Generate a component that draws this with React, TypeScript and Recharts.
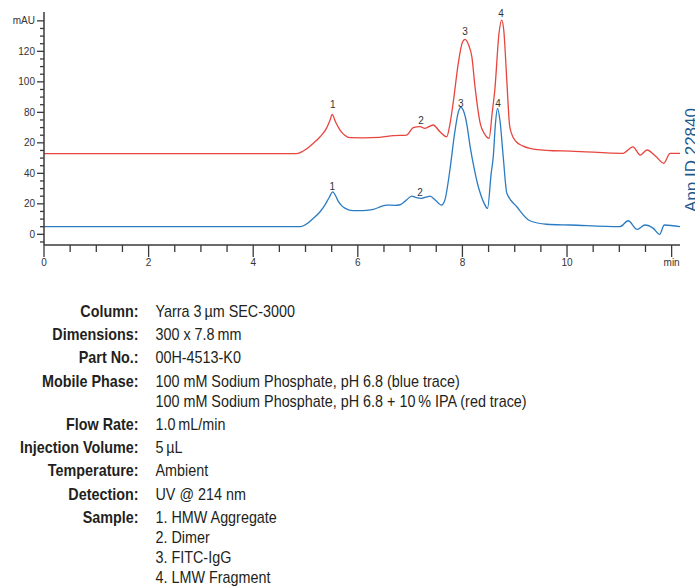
import { LineChart, Line, XAxis, YAxis, ReferenceDot } from 'recharts'

// retention time (min) and absorbance (mAU)
const blueTime = [
  0, 4.9, 5.05, 5.15, 5.27, 5.37, 5.45, 5.52, 5.58, 5.63, 5.7, 5.76, 5.91, 6.1, 6.3,
  6.45, 6.55, 6.7, 6.81, 6.93, 7.03, 7.12, 7.22, 7.32, 7.38, 7.48, 7.6, 7.66, 7.76,
  7.85, 7.92, 7.97, 8.02, 8.08, 8.15, 8.22, 8.29, 8.36, 8.42, 8.48, 8.55, 8.59, 8.63,
  8.67, 8.72, 8.78, 8.85, 9.04, 9.29, 9.61, 10.06, 11.01, 11.17, 11.34, 11.49, 11.65,
  11.77, 11.86, 12.16,
]
const blueValue = [
  5.0, 5.0, 7.5, 10.5, 14.5, 19.2, 24, 27.9, 25, 21.4, 18.5, 17, 15.5, 15.6, 16.4,
  18.3, 19.2, 19.0, 19.4, 22.5, 25.1, 24.0, 23.6, 24.6, 25.1, 22.5, 19.2, 22, 42,
  66, 80, 83.3, 81, 73, 57, 44, 33, 25, 20, 17, 40, 51, 72,
  82.6, 74, 50.9, 26.9, 18.1, 8.9, 6.6, 6.1, 5.0, 8.9, 3.3, 6.1, 3.9,
  0, 6.1, 5.0,
]

const redTime = [
  0, 4.83, 4.95, 5.05, 5.15, 5.28, 5.4, 5.47, 5.51, 5.57, 5.66, 5.75, 5.85, 6.1, 6.42,
  6.68, 6.93, 7.06, 7.19, 7.28, 7.44, 7.57, 7.7, 7.76, 7.83, 7.92, 8.0, 8.05, 8.12,
  8.18, 8.24, 8.34, 8.42, 8.51, 8.57, 8.62, 8.7, 8.75, 8.79, 8.85, 8.9, 8.94, 9.03,
  9.15, 9.29, 9.73, 10.06, 11.07, 11.26, 11.4, 11.53, 11.7, 11.85, 11.97, 12.16,
]
const redValue = [
  52.9, 52.9, 54.5, 56.8, 59.7, 64, 69.5, 75, 78.7, 74, 68.4, 65, 63.4, 63.3, 63.6,
  64.7, 65.1, 69.9, 70.6, 69.5, 71.7, 67.3, 64.0, 72, 88, 112, 126, 127.9, 124,
  116.5, 97, 72.8, 66, 62.9, 80, 95, 132, 140.5, 134, 100, 72, 66, 60.7,
  58, 56.4, 54.8, 54.6, 53.1, 57.4, 52.0, 55.3, 51, 46.6, 53.1, 53.1,
]

// peak numbers: position of the label text (min, mAU)
const peakText = ['1', '2', '3', '4']
const redLabelTime = [5.52, 7.21, 8.05, 8.74]
const redLabelValue = [85.4, 74.9, 133.3, 145.1]
const blueLabelTime = [5.51, 7.19, 7.97, 8.68]
const blueLabelValue = [31.7, 27.7, 86.1, 86.1]

const xTicks = [
  0, 0.5, 1, 1.5, 2, 2.5, 3, 3.5, 4, 4.5, 5, 5.5, 6, 6.5, 7, 7.5, 8, 8.5, 9, 9.5, 10,
  10.5, 11, 11.5, 12,
]
const xMajor = [0, 2, 4, 6, 8, 10, 12]
const xMajorLabels = ['0', '2', '4', '6', '8', '10', 'min']

const yTicks = [
  -5, 0, 5, 10, 15, 20, 25, 30, 35, 40, 45, 50, 55, 60, 65, 70, 75, 80, 85, 90, 95,
  100, 105, 110, 115, 120, 125, 130, 135, 140,
]
const yMajor = [0, 20, 40, 60, 80, 100, 120, 140]
const yMajorLabels = ['0', '20', '40', '20', '80', '100', '120', 'mAU']

const conditionLabels = [
  'Column:',
  'Dimensions:',
  'Part No.:',
  'Mobile Phase:',
  'Flow Rate:',
  'Injection Volume:',
  'Temperature:',
  'Detection:',
  'Sample:',
]
const conditionValues = [
  ['Yarra 3\u2009µm SEC-3000'],
  ['300 x 7.8\u2009mm'],
  ['00H-4513-K0'],
  [
    '100 mM Sodium Phosphate, pH 6.8 (blue trace)',
    '100 mM Sodium Phosphate, pH 6.8 + 10\u2009% IPA (red trace)',
  ],
  ['1.0\u2009mL/min'],
  ['5\u2009µL'],
  ['Ambient'],
  ['UV @ 214 nm'],
  ['1. HMW Aggregate', '2. Dimer', '3. FITC-IgG', '4. LMW Fragment'],
]

const RED = '#e8453e'
const BLUE = '#2b7bc2'
const AXIS = '#3a3a3a'
const tickFont = "'Liberation Sans', Arial, sans-serif"

const blueData = blueTime.map((t, i) => ({ t, v: blueValue[i] }))
const redData = redTime.map((t, i) => ({ t, v: redValue[i] }))

function XTick(props: any) {
  const { x, y, payload } = props
  const idx = xMajor.indexOf(payload.value)
  const major = idx >= 0
  return (
    <g>
      <line x1={x} x2={x} y1={y} y2={y + (major ? 12 : 7)} stroke={AXIS} strokeWidth={1.3} />
      {major && (
        <text x={x} y={y + 21} textAnchor="middle" fontSize={10} fill="#333" fontFamily={tickFont}>
          {xMajorLabels[idx]}
        </text>
      )}
    </g>
  )
}

function YTick(props: any) {
  const { x, y, payload } = props
  const idx = yMajor.indexOf(payload.value)
  const major = idx >= 0
  return (
    <g>
      <line x1={x - (major ? 7 : 4)} x2={x} y1={y} y2={y} stroke={AXIS} strokeWidth={1.3} />
      {major && (
        <text x={x - 9} y={y + 3.5} textAnchor="end" fontSize={10} fill="#333" fontFamily={tickFont}>
          {yMajorLabels[idx]}
        </text>
      )}
    </g>
  )
}

export default function App() {
  return (
    <div
      style={{
        position: 'absolute',
        left: 0,
        top: 0,
        width: 695,
        height: 586,
        overflow: 'hidden',
        background: '#fff',
      }}
    >
      <LineChart
        width={695}
        height={280}
        margin={{ top: 12, right: 15, bottom: 5, left: 0 }}
      >
        <XAxis
          type="number"
          dataKey="t"
          domain={[0, 12.16]}
          allowDataOverflow
          ticks={xTicks}
          interval={0}
          tickSize={0}
          tickMargin={0}
          tick={<XTick />}
          axisLine={{ stroke: AXIS, strokeWidth: 1.5 }}
          height={30}
        />
        <YAxis
          type="number"
          domain={[-7, 145.8]}
          allowDataOverflow
          ticks={yTicks}
          interval={0}
          tickSize={0}
          tickMargin={0}
          tick={<YTick />}
          axisLine={{ stroke: AXIS, strokeWidth: 1.5 }}
          width={44}
        />
        <Line
          data={redData}
          dataKey="v"
          type="monotone"
          stroke={RED}
          strokeWidth={1.3}
          dot={false}
          isAnimationActive={false}
        />
        <Line
          data={blueData}
          dataKey="v"
          type="monotone"
          stroke={BLUE}
          strokeWidth={1.3}
          dot={false}
          isAnimationActive={false}
        />
        {peakText.map((p, i) => (
          <ReferenceDot
            key={'r' + p}
            x={redLabelTime[i]}
            y={redLabelValue[i]}
            r={0}
            ifOverflow="visible"
            label={{ value: p, position: 'center', fontSize: 10, fill: '#333', fontFamily: tickFont }}
          />
        ))}
        {peakText.map((p, i) => (
          <ReferenceDot
            key={'b' + p}
            x={blueLabelTime[i]}
            y={blueLabelValue[i]}
            r={0}
            ifOverflow="visible"
            label={{ value: p, position: 'center', fontSize: 10, fill: '#333', fontFamily: tickFont }}
          />
        ))}
      </LineChart>
      <svg
        width={695}
        height={280}
        style={{ position: 'absolute', left: 0, top: 0, pointerEvents: 'none' }}
      >
        <text
          x={697}
          y={160}
          textAnchor="middle"
          transform="rotate(-90 697 160)"
          fontSize={17}
          fill="#1d5a8e"
          fontFamily={tickFont}
        >
          App ID 22840
        </text>
      </svg>
      {/* conditions block; condensed look via horizontal squeeze */}
      <div
        style={{
          position: 'absolute',
          left: 0,
          top: 302,
          display: 'grid',
          gridTemplateColumns: '164px auto',
          columnGap: 20,
          rowGap: 3,
          fontFamily: tickFont,
          fontSize: 17,
          lineHeight: '20.2px',
          color: '#231f20',
          transform: 'scaleX(0.845)',
          transformOrigin: '0 0',
        }}
      >
        {conditionLabels.map((lab, i) => [
          <div key={'l' + i} style={{ fontWeight: 'bold', textAlign: 'right', whiteSpace: 'nowrap' }}>
            {lab}
          </div>,
          <div key={'v' + i} style={{ whiteSpace: 'nowrap' }}>
            {conditionValues[i].map((line, j) => (
              <div key={j}>{line}</div>
            ))}
          </div>,
        ])}
      </div>
    </div>
  )
}
